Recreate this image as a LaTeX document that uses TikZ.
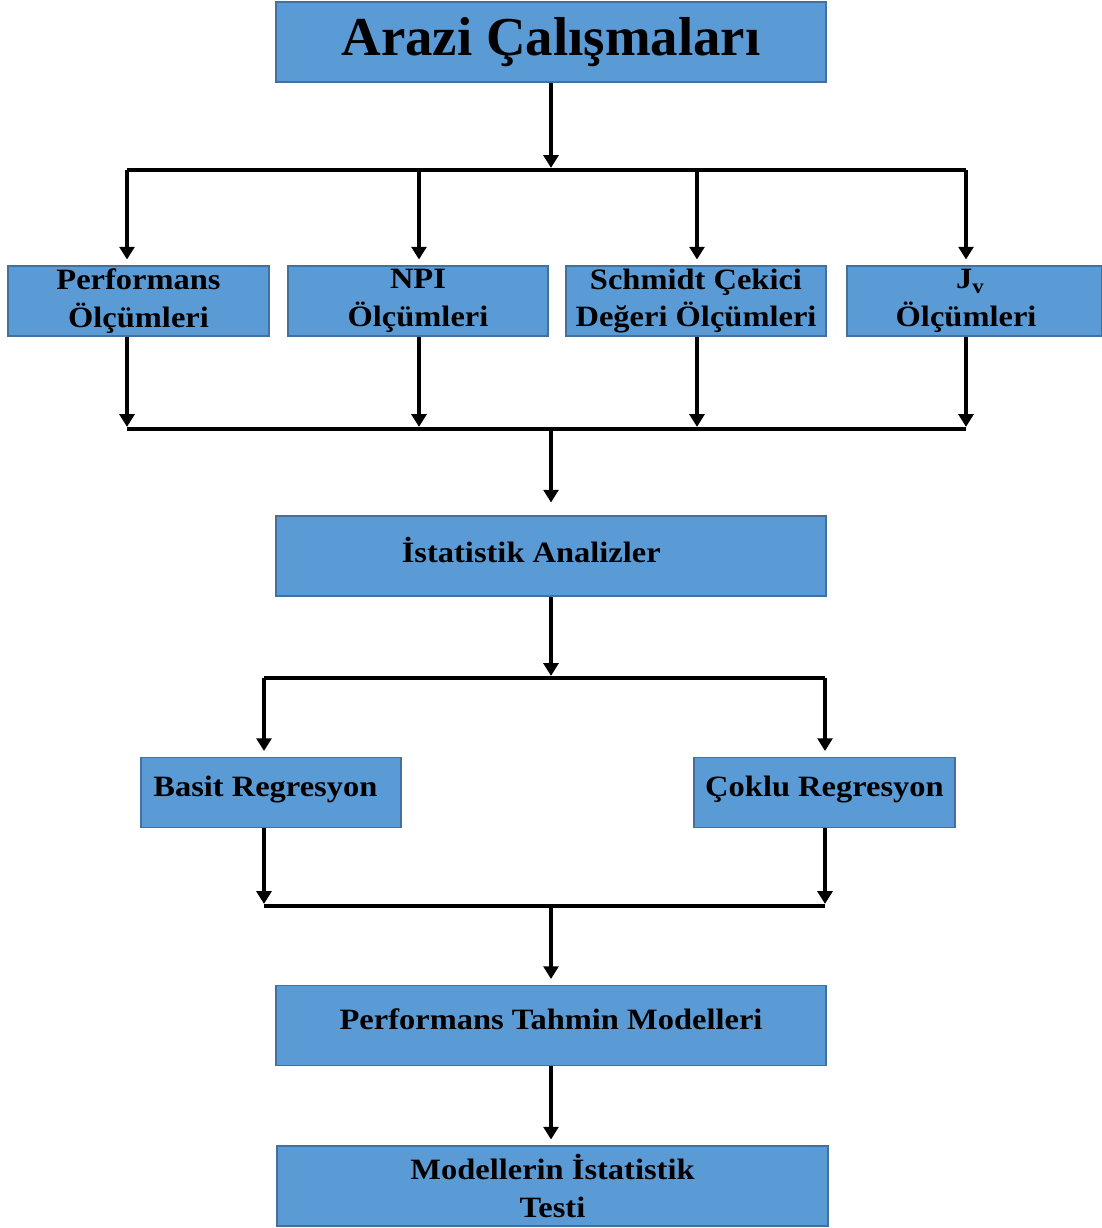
\documentclass[tikz,border=0pt]{standalone}
\usepackage{fontspec}
\setmainfont{Liberation Serif}
\newfontfamily\boxfont{Liberation Serif}[FakeStretch=1.1]
\usetikzlibrary{arrows.meta}

\definecolor{boxblue}{RGB}{91,155,213}
\definecolor{boxline}{RGB}{65,113,156}

\begin{document}
\begin{tikzpicture}[x=0.025cm,y=-0.025cm,
    box/.style={draw=boxline,line width=1.2pt,fill=boxblue,align=center,inner sep=0pt,
      minimum height=1.75cm,font=\boxfont\bfseries\fontsize{21}{27}\selectfont},
    widebox/.style={box,minimum width=13.75cm,minimum height=2cm},
    oneline/.style={text depth=9pt},
    flow/.style={line width=2.2pt,-{Triangle[width=10.5pt,length=9pt]}},
    bar/.style={line width=2.2pt}]

    \useasboundingbox (0,0) rectangle (1102,1228);

    % field work box
    \node[widebox,text depth=8pt,font=\bfseries\fontsize{39}{44}\selectfont] (arazi) at (551,42) {Arazi Çalışmaları};

    % measurement boxes
    \node[box,minimum width=6.525cm] (perf) at (138.5,301) {Performans\\Ölçümleri};
    \node[box,minimum width=6.5cm] (npi) at (418,301) {NPI\\Ölçümleri};
    \node[box,minimum width=6.5cm] (schmidt) at (696,301) {Schmidt Çekici\\Değeri Ölçümleri};
    \node[box,minimum width=6.375cm] (jv) at (974.5,301) {J\textsubscript{v}\hspace*{6pt}\\Ölçümleri\hspace*{12pt}};

    % analysis and regression boxes
    \node[widebox,oneline] (stat) at (551,556) {İstatistik Analizler\hspace*{28pt}};
    \node[box,oneline,minimum width=6.5cm] (basit) at (271,792.5) {Basit Regresyon\hspace*{8pt}};
    \node[box,oneline,minimum width=6.525cm] (coklu) at (824.5,792.5) {Çoklu Regresyon};

    % model boxes
    \node[widebox,oneline] (tahmin) at (551,1025.5) {Performans Tahmin Modelleri};
    \node[widebox,minimum width=13.775cm] (test) at (552.5,1186) {Modellerin İstatistik\\Testi};

    % split and merge points
    \coordinate (split1) at (551,170);
    \coordinate (merge1) at (551,429);
    \coordinate (split2) at (551,678);
    \coordinate (merge2) at (551,906);
    \foreach \b/\x in {perf/127,npi/419,schmidt/697,jv/966} {
      \coordinate (\b-in) at (\x,170);
      \coordinate (\b-out) at (\x,429);
    }
    \foreach \b/\x in {basit/264,coklu/825} {
      \coordinate (\b-in) at (\x,678);
      \coordinate (\b-out) at (\x,906);
    }

    % first stage
    \draw[flow,shorten >=1.5pt] (arazi.south) -- (split1);
    \draw[bar] (perf-in) -- (jv-in);
    \draw[bar] (perf-out) -- (jv-out);
    \foreach \b in {perf,npi,schmidt,jv} {
      \draw[flow,shorten >=4pt] (\b-in) -- (\b-in |- \b.north);
      \draw[flow,shorten >=1.5pt] (\b-out |- \b.south) -- (\b-out);
    }
    \draw[flow,shorten >=9pt] (merge1) -- (stat.north);

    % second stage
    \draw[flow,shorten >=1.5pt] (stat.south) -- (split2);
    \draw[bar] (basit-in) -- (coklu-in);
    \draw[bar] (basit-out) -- (coklu-out);
    \foreach \b in {basit,coklu} {
      \draw[flow,shorten >=4pt] (\b-in) -- (\b-in |- \b.north);
      \draw[flow,shorten >=1.5pt] (\b-out |- \b.south) -- (\b-out);
    }
    \draw[flow,shorten >=4pt] (merge2) -- (tahmin.north);
    \draw[flow,shorten >=4pt] (tahmin.south) -- (tahmin.south |- test.north);

\end{tikzpicture}
\end{document}
